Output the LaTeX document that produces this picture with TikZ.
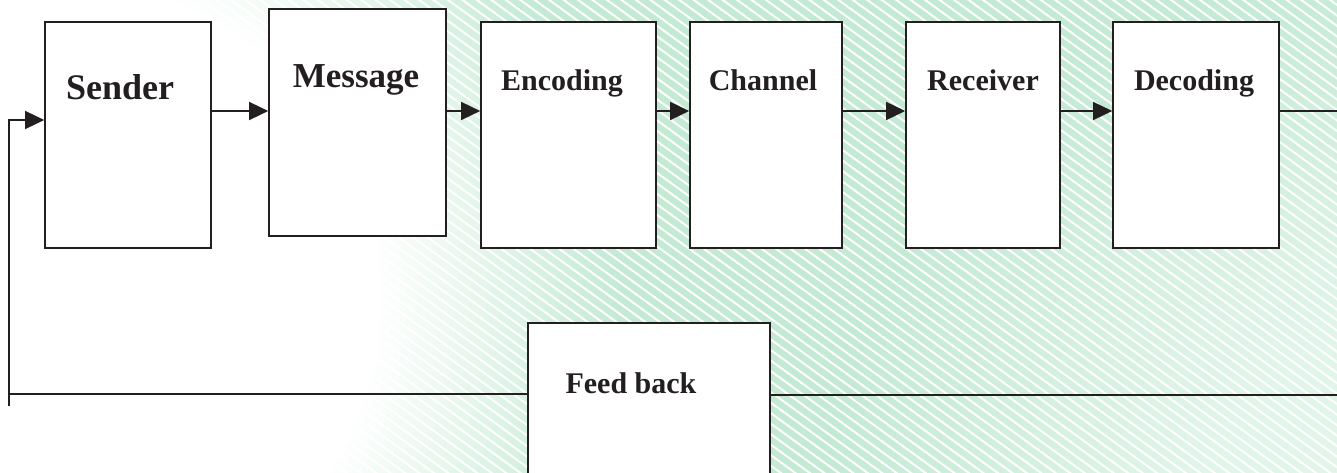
\documentclass[tikz,border=0pt]{standalone}
\usepackage{fontspec}
\setmainfont{Liberation Serif}
\usetikzlibrary{positioning,arrows.meta,patterns.meta}
\definecolor{mint}{RGB}{196,234,212}
\definecolor{ink}{RGB}{35,31,32}
\pgfdeclareradialshading{whiteblob}{\pgfpointorigin}{color(0bp)=(white); color(14bp)=(white); color(19bp)=(mint!45!white); color(25bp)=(mint); color(50bp)=(mint)}
\pgfdeclareradialshading{paleblob}{\pgfpointorigin}{color(0bp)=(mint!45!white); color(10bp)=(mint!50!white); color(25bp)=(mint); color(50bp)=(mint)}

\begin{document}
\begin{tikzpicture}[x=1pt, y=-1pt,
squarebox/.style={rectangle, draw=ink, fill=white, line width=1.6pt, inner sep=0pt},
boxtext/.style={anchor=base, font=\bfseries\fontsize{30}{36}\selectfont, text=ink},
bigtext/.style={anchor=base, font=\bfseries\fontsize{36}{42}\selectfont, text=ink},
link/.style={line width=1.4pt, draw=ink},
arrow/.style={link, -{Triangle[length=19pt, width=18pt]}},
]
%Background
\clip (0,0) rectangle (1337,473);
\fill[mint] (0,0) rectangle (1337,473);
\shade[shading=paleblob] (1420,560) circle (600);
\shade[shading=whiteblob] (60,300) circle (560);
\fill[pattern={Lines[angle=-36, distance=8.5pt, line width=2pt]}, pattern color=white, fill opacity=0.55] (0,0) rectangle (1337,473);

%Coordinates
\coordinate (row)     at (0,111);
\coordinate (outright) at (1337,111);
\coordinate (fbright) at (1337,395);
\coordinate (fbleft)  at (9,394);
\coordinate (fbtail)  at (9,406);
\coordinate (fbup)    at (9,120);

%Nodes
\node[squarebox, minimum width=166pt, minimum height=226pt] (sender)   at (128,135)   {};
\node[squarebox, minimum width=177pt, minimum height=227pt] (message)  at (357.5,122.5) {};
\node[squarebox, minimum width=175pt, minimum height=226pt] (encoding) at (568.5,135) {};
\node[squarebox, minimum width=152pt, minimum height=226pt] (channel)  at (766,135)   {};
\node[squarebox, minimum width=154pt, minimum height=226pt] (receiver) at (983,135)   {};
\node[squarebox, minimum width=166pt, minimum height=226pt] (decoding) at (1196,135)  {};
\node[squarebox, minimum width=242pt, minimum height=160pt] (feedback) at (649,403)   {};

%Labels
\node[bigtext]                                       (senderlbl)   at (120,100)  {Sender};
\node[bigtext, font=\bfseries\fontsize{35}{42}\selectfont] (messagelbl) at (356,88) {Message};
\node[boxtext]                                       (encodinglbl) at (562,91)   {Encoding};
\node[boxtext]                                       (channellbl)  at (763,91)   {Channel};
\node[boxtext]                                       (receiverlbl) at (983,91)   {Receiver};
\node[boxtext]                                       (decodinglbl) at (1194,91)  {Decoding};
\node[boxtext]                                       (feedbacklbl) at (631,393)  {Feed back};

%Lines
\draw[arrow] (sender.east |- row)   -- (message.west |- row);
\draw[arrow] (message.east |- row)  -- (encoding.west |- row);
\draw[arrow] (encoding.east |- row) -- (channel.west |- row);
\draw[arrow] (channel.east |- row)  -- (receiver.west |- row);
\draw[arrow] (receiver.east |- row) -- (decoding.west |- row);
\draw[link]  (decoding.east |- row) -- (outright);
\draw[link]  (fbright) -- (feedback.east |- fbright);
\draw[link]  (feedback.west |- fbleft) -- (fbleft);
\draw[arrow] (fbtail) -- (fbup) -- (sender.west |- fbup);
\end{tikzpicture}
\end{document}
